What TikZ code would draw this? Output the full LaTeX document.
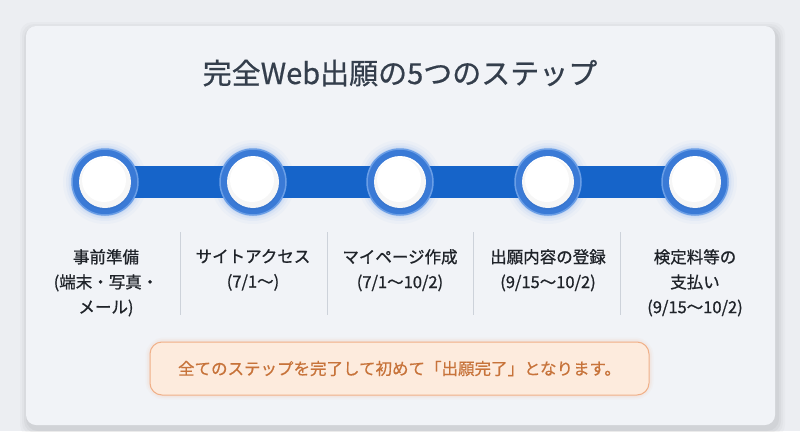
\documentclass[tikz,border=0pt]{standalone}
\usepackage{fontspec}
\setmainfont{Noto Sans CJK JP}
\newfontfamily\medfont{Noto Sans CJK JP}[FakeBold=0.9]
\newfontfamily\semifont{Noto Sans CJK JP}[FakeBold=0.6]
\definecolor{bgc}{HTML}{ECEEF2}
\definecolor{cardc}{HTML}{F1F3F7}
\definecolor{titlec}{HTML}{343E4C}
\definecolor{lblc}{HTML}{1F2329}
\definecolor{sepc}{HTML}{CDD2DA}
\definecolor{barc}{HTML}{1664C9}
\definecolor{ringc}{HTML}{3A7AD6}
\definecolor{ringedge}{HTML}{6A9EE6}
\definecolor{glowc}{HTML}{7FAEF0}
\definecolor{notefill}{HTML}{FDEBDD}
\definecolor{notedraw}{HTML}{F0B088}
\definecolor{notetext}{HTML}{C7733A}
\tikzset{
  ringnode/.style={circle, minimum size=66pt, inner sep=0pt, fill=ringc, draw=ringedge, line width=1.5pt},
  knob/.style={circle, minimum size=52pt, inner sep=0pt, fill=white},
  lbl/.style={align=center, anchor=north, inner sep=0pt, text=lblc, font=\medfont\fontsize{16.5}{25}\selectfont},
  sepline/.style={draw=sepc, line width=0.8pt},
  bar/.style={draw=barc, line width=32pt},
  notebox/.style={rounded corners=12pt, fill=notefill, draw=notedraw, line width=1pt, minimum width=499pt, minimum height=53pt, text=notetext, font=\semifont\fontsize{16.5}{20}\selectfont}
}
\begin{document}
\begin{tikzpicture}[x=1pt,y=-1pt]
\useasboundingbox (0,0) rectangle (800,431);
\fill[bgc] (0,0) rectangle (800,431);
% card shadow
\foreach \i/\o in {8/0.02,6/0.025,4/0.03,2/0.035}
  \fill[black,opacity=\o,rounded corners=12pt] (26-\i+2,26-\i+4) rectangle (775+\i+2,425+\i+4);
\fill[cardc,rounded corners=10pt] (26,26) rectangle (775,425);
% title
\node[text=titlec, font=\semifont\fontsize{29}{34}\selectfont] (title) at (400,73) {完全Web出願の5つのステップ};
% step positions
\coordinate (p1) at (105,182);
\coordinate (p2) at (253,182);
\coordinate (p3) at (400,182);
\coordinate (p4) at (548,182);
\coordinate (p5) at (695,182);
% glows
\foreach \k in {1,...,5}{
  \foreach \r/\o in {42/0.05,39/0.08,36.5/0.12,34.5/0.18}
    \fill[glowc,opacity=\o] (p\k) circle (\r pt);
}
\draw[bar] (p1) -- (p5);
\foreach \k in {1,...,5}{
  \node[ringnode] (c\k) at (p\k) {};
  \node[knob] (k\k) at (p\k) {};
  \shade[inner color=white, outer color=white, middle color=white, shading=radial] (p\k) circle (20pt);
  \fill[black,opacity=0.035] ([yshift=-2pt]p\k) circle (26pt);
  \fill[white] ([xshift=-1pt,yshift=2pt]p\k) circle (22pt);
}
% separators
\foreach \x in {180,327,473,620}
  \draw[sepline] (\x,232) -- (\x,315);
% labels
\node[lbl] (l1) at (106,249) {事前準備\\(端末・写真・\\メール)};
\node[lbl] (l2) at (253,249) {サイトアクセス\\(7/1〜)};
\node[lbl] (l3) at (400,249) {マイページ作成\\(7/1〜10/2)};
\node[lbl] (l4) at (548,249) {出願内容の登録\\(9/15〜10/2)};
\node[lbl] (l5) at (695,249) {検定料等の\\支払い\\(9/15〜10/2)};
% note glow
\foreach \w/\o in {9/0.05,6/0.07,3/0.09}
  \draw[notedraw,opacity=\o,line width=\w pt,rounded corners=14pt] (150,342) rectangle (649,395);
\node[notebox] (note) at (399.5,368.5) {全てのステップを完了して初めて「出願完了」となります。};
\end{tikzpicture}
\end{document}
